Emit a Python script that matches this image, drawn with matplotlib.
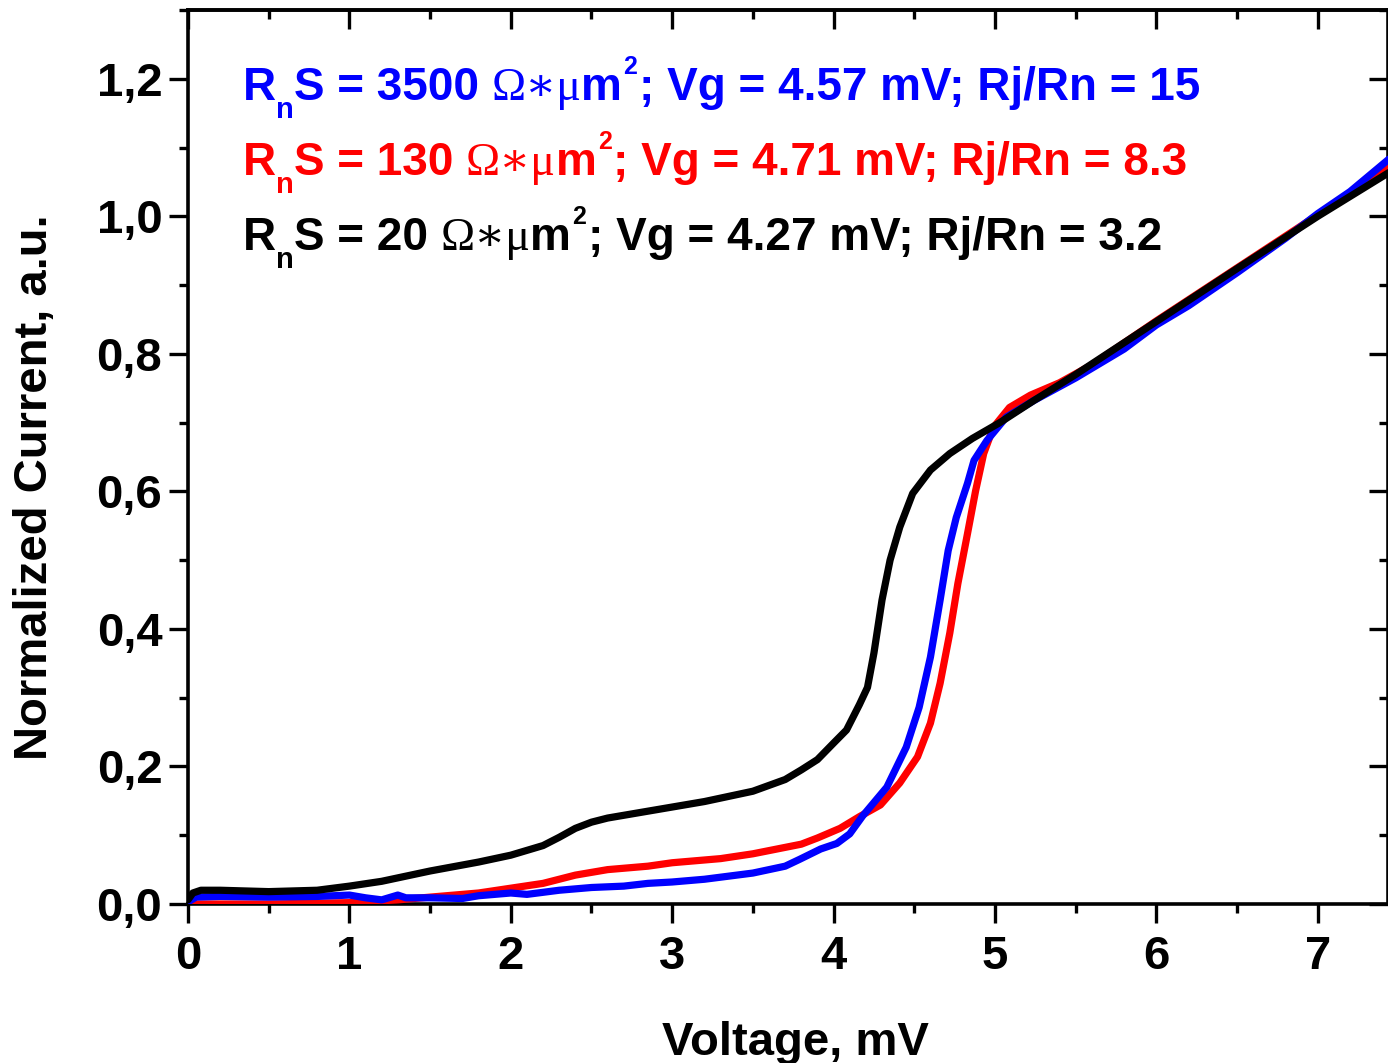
import matplotlib
matplotlib.use("Agg")
import matplotlib.pyplot as plt
from matplotlib.ticker import MultipleLocator, FuncFormatter

# ---------------- data ----------------
v_black = [0.00, 0.03, 0.08, 0.2, 0.5, 0.8, 1.0, 1.2, 1.5, 1.8, 2.0, 2.2, 2.3, 2.4, 2.5, 2.6,
           2.8, 3.0, 3.2, 3.5, 3.7, 3.8, 3.9, 4.0, 4.08, 4.16, 4.21, 4.25, 4.30, 4.35, 4.41,
           4.49, 4.60, 4.72, 4.86, 5.03, 5.24, 5.5, 6.0, 6.5, 7.0, 7.45]
i_black = [0.006, 0.016, 0.020, 0.020, 0.018, 0.020, 0.026, 0.033, 0.048, 0.061, 0.071, 0.085,
           0.097, 0.110, 0.119, 0.125, 0.133, 0.141, 0.149, 0.164, 0.181, 0.195, 0.210, 0.234,
           0.253, 0.290, 0.315, 0.365, 0.442, 0.500, 0.548, 0.597, 0.631, 0.655, 0.677, 0.700,
           0.732, 0.770, 0.847, 0.924, 1.000, 1.065]

v_blue = [0.00, 0.05, 0.2, 0.5, 0.8, 1.0, 1.1, 1.2, 1.3, 1.35, 1.5, 1.7, 1.8, 2.0, 2.1, 2.3,
          2.5, 2.7, 2.85, 3.0, 3.2, 3.5, 3.7, 3.79, 3.92, 4.02, 4.1, 4.18, 4.33, 4.45, 4.53,
          4.60, 4.66, 4.71, 4.76, 4.83, 4.87, 4.95, 5.07, 5.24, 5.5, 5.8, 6.0, 6.2, 6.5, 6.8,
          7.0, 7.2, 7.45]
i_blue = [0.003, 0.010, 0.011, 0.010, 0.011, 0.013, 0.009, 0.006, 0.013, 0.009, 0.009, 0.008,
          0.012, 0.016, 0.014, 0.020, 0.024, 0.026, 0.030, 0.032, 0.036, 0.045, 0.055, 0.065,
          0.080, 0.088, 0.102, 0.128, 0.170, 0.228, 0.286, 0.359, 0.442, 0.514, 0.562, 0.612,
          0.645, 0.674, 0.708, 0.732, 0.765, 0.807, 0.842, 0.870, 0.918, 0.968, 1.004, 1.036,
          1.085]

v_red = [0.00, 0.5, 1.0, 1.3, 1.5, 1.8, 2.0, 2.2, 2.4, 2.6, 2.85, 3.0, 3.3, 3.5, 3.8, 3.9,
         4.04, 4.16, 4.29, 4.41, 4.52, 4.60, 4.66, 4.72, 4.77, 4.83, 4.88, 4.93, 4.99, 5.09,
         5.22, 5.4, 5.6, 6.0, 6.5, 7.0, 7.45]
i_red = [0.000, 0.000, 0.002, 0.006, 0.010, 0.016, 0.023, 0.030, 0.042, 0.050, 0.055, 0.060,
         0.066, 0.073, 0.087, 0.096, 0.110, 0.127, 0.144, 0.176, 0.214, 0.263, 0.321, 0.394,
         0.466, 0.539, 0.601, 0.655, 0.693, 0.722, 0.740, 0.758, 0.784, 0.848, 0.925, 1.002,
         1.075]

rns_values = ["3500", "130", "20"]
vg_values = ["4.57", "4.71", "4.27"]
ratio_values = ["15", "8.3", "3.2"]
series_colors = ["#0000ff", "#ff0000", "#000000"]

x_label = "Voltage, mV"
y_label = "Normalized Current, a.u."

# ---------------- figure ----------------
W, H = 1388, 1063
fig = plt.figure(figsize=(W / 100, H / 100), dpi=100)
L, B = 188 / W, 1 - 904 / H
ax = fig.add_axes([L, B, 1.0 - L, (904 - 10) / H])

LW = 5.2
ax.plot(v_red, i_red, color="#ff0000", lw=LW, solid_capstyle="round", solid_joinstyle="round", zorder=3)
ax.plot(v_blue, i_blue, color="#0000ff", lw=LW, solid_capstyle="round", solid_joinstyle="round", zorder=4)
ax.plot(v_black, i_black, color="#000000", lw=LW, solid_capstyle="round", solid_joinstyle="round", zorder=5)

ax.set_xlim(0, 7.435)
ax.set_ylim(0, 1.3)

MAIN = "Liberation Sans"
for s in ax.spines.values():
    s.set_linewidth(2.6)

ax.xaxis.set_major_locator(MultipleLocator(1))
ax.xaxis.set_minor_locator(MultipleLocator(0.5))
ax.yaxis.set_major_locator(MultipleLocator(0.2))
ax.yaxis.set_minor_locator(MultipleLocator(0.1))
ax.yaxis.set_major_formatter(FuncFormatter(lambda v, p: f"{v:.1f}".replace(".", ",")))
ax.xaxis.set_major_formatter(FuncFormatter(lambda v, p: f"{v:.0f}"))

ax.tick_params(which="major", direction="out", length=13.5, width=2.4, labelsize=34)
ax.tick_params(which="minor", direction="out", length=6.5, width=2.4)
ax.tick_params(axis="x", which="major", pad=9)
ax.tick_params(axis="y", which="major", pad=5)
for lab in ax.get_xticklabels() + ax.get_yticklabels():
    lab.set_fontfamily(MAIN)
    lab.set_fontweight("bold")

# top and right: inward ticks without labels
sx = ax.secondary_xaxis("top")
sx.xaxis.set_major_locator(MultipleLocator(1))
sx.xaxis.set_minor_locator(MultipleLocator(0.5))
sx.tick_params(which="major", direction="in", length=13.5, width=2.4, labeltop=False)
sx.tick_params(which="minor", direction="in", length=6.5, width=2.4)
sx.spines["top"].set_linewidth(2.6)
sy = ax.secondary_yaxis("right")
sy.yaxis.set_major_locator(MultipleLocator(0.2))
sy.yaxis.set_minor_locator(MultipleLocator(0.1))
sy.tick_params(which="major", direction="in", length=13.5, width=2.4, labelright=False)
sy.tick_params(which="minor", direction="in", length=6.5, width=2.4)

ax.set_xlabel(x_label, fontsize=34, fontweight="bold", family=MAIN)
ax.xaxis.set_label_coords((795 - 188) / 1200, (904 - 1021) / 894)
ax.set_ylabel(y_label, fontsize=34, fontweight="bold", family=MAIN)
ax.yaxis.set_label_coords((13 - 188) / 1200, (904 - 487) / 894)
ax.yaxis.label.set_va("top")

# ---------------- annotation lines (chained text pieces) ----------------
FS = 33
styles = {
    "main": dict(size=FS, family=[MAIN], weight="bold", dy=0),
    "sub": dict(size=21, family=[MAIN], weight="bold", dy=-13),
    "sup": dict(size=18, family=[MAIN], weight="bold", dy=19),
    "sym": dict(size=FS, family=["Liberation Serif", "DejaVu Serif"], weight="normal", dy=0),
    "narrow": dict(size=FS, family=["Liberation Sans Narrow", MAIN], weight="bold", dy=0),
}


def draw_line(x0, y0, pieces, color):
    prev = None
    for txt, kind, gap in pieces:
        st = styles[kind]
        kw = dict(fontsize=st["size"], family=st["family"], fontweight=st["weight"],
                  color=color, va="baseline", ha="left", zorder=6)
        if prev is None:
            t = ax.text(x0, y0, txt, transform=ax.transAxes, **kw)
        else:
            t = ax.annotate(txt, xy=(1, y0), xycoords=(prev, ax.transAxes),
                            xytext=(gap, st["dy"]), textcoords="offset points", **kw)
        prev = t


baselines_px = [100, 175, 250]
SP = 9.0
for k in range(3):
    y0 = (904 - baselines_px[k]) / 894
    pieces = [
        ("R", "main", 0),
        ("n", "sub", 0),
        ("S = " + rns_values[k], "main", 0),
        ("\u03A9\u2217\u03BC", "sym", SP),
        ("m", "main", 0),
        ("2", "sup", 1),
        ("; Vg = " + vg_values[k] + " mV; Rj/Rn = " + ratio_values[k], "narrow", 1),
    ]
    draw_line((243 - 188) / 1200, y0, pieces, series_colors[k])

fig.savefig("out.png", dpi=100)
